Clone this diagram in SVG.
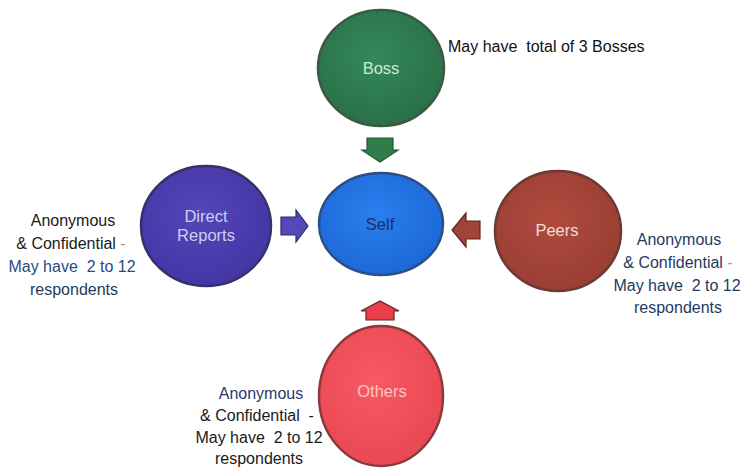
<svg xmlns="http://www.w3.org/2000/svg" width="746" height="469" viewBox="0 0 746 469">
  <defs>
    <style>
      .lbl { font-family: "Liberation Sans", Arial, sans-serif; font-size: 16.5px; text-anchor: middle; }
      .side { font-family: "Liberation Sans", Arial, sans-serif; font-size: 16px; text-anchor: middle; white-space: pre; }
      .node { stroke-width: 2.5; }
      .arrow { stroke-width: 1.2; stroke-linejoin: miter; }
    </style>
    <radialGradient id="gBoss" cx="45%" cy="40%" r="60%">
      <stop offset="0" stop-color="#34895a"/><stop offset="1" stop-color="#2a7048"/>
    </radialGradient>
    <radialGradient id="gSelf" cx="45%" cy="40%" r="60%">
      <stop offset="0" stop-color="#2a7fee"/><stop offset="1" stop-color="#1d68d8"/>
    </radialGradient>
    <radialGradient id="gDirect" cx="45%" cy="40%" r="60%">
      <stop offset="0" stop-color="#5346b8"/><stop offset="1" stop-color="#4536a6"/>
    </radialGradient>
    <radialGradient id="gPeers" cx="45%" cy="40%" r="60%">
      <stop offset="0" stop-color="#b04a3e"/><stop offset="1" stop-color="#9a3e34"/>
    </radialGradient>
    <radialGradient id="gOthers" cx="45%" cy="40%" r="60%">
      <stop offset="0" stop-color="#f65a62"/><stop offset="1" stop-color="#ea4852"/>
    </radialGradient>
  </defs>
  <rect width="746" height="469" fill="#ffffff"/>

  <g id="connectors">
    <polygon class="arrow" points="367,138 393,138 393,150 398,150 380,162 362,150 367,150" fill="#2e7d4a" stroke="#1f5a34"/>
    <polygon class="arrow" points="281,217 296,217 296,210 308,226 296,242 296,235 281,235" fill="#5548b8" stroke="#2e2770"/>
    <polygon class="arrow" points="480,221 466,221 466,213 452,230 466,247 466,239 480,239" fill="#a0443a" stroke="#5e2520"/>
    <polygon class="arrow" points="366,320 394,320 394,311 399,311 380,301 361,311 366,311" fill="#e8404a" stroke="#6a2025"/>
  </g>

  <g id="boss">
    <ellipse class="node" cx="381" cy="68" rx="63" ry="58" fill="url(#gBoss)" stroke="#3a5a44"/>
    <text class="lbl" x="381" y="74" fill="#cfe8d6">Boss</text>
  </g>
  <g id="self">
    <ellipse class="node" cx="381" cy="224" rx="62" ry="51" fill="url(#gSelf)" stroke="#2a4e86"/>
    <text class="lbl" x="380" y="230" fill="#1d2f62">Self</text>
  </g>
  <g id="direct-reports">
    <ellipse class="node" cx="206" cy="226" rx="65" ry="60" fill="url(#gDirect)" stroke="#37306a"/>
    <text class="lbl" x="206" y="222" fill="#cfcdf2">Direct</text>
    <text class="lbl" x="206" y="241" fill="#cfcdf2">Reports</text>
  </g>
  <g id="peers">
    <ellipse class="node" cx="558" cy="231" rx="63" ry="60" fill="url(#gPeers)" stroke="#6a3a34"/>
    <text class="lbl" x="557" y="236" fill="#f3ddd6">Peers</text>
  </g>
  <g id="others">
    <ellipse class="node" cx="381" cy="396" rx="62" ry="70" fill="url(#gOthers)" stroke="#8a3a3e"/>
    <text class="lbl" x="382" y="397" fill="#ffc4c6">Others</text>
  </g>

  <g id="notes">
    <text class="side" x="448" y="52" style="text-anchor:start" fill="#111111">May have  total of 3 Bosses</text>

    <text class="side" x="73" y="226" fill="#1a1a1a">Anonymous</text>
    <text class="side" x="71" y="249" fill="#1a1a1a">&amp; Confidential <tspan fill="#b09070">-</tspan></text>
    <text class="side" x="72" y="272" fill="#2c4a80">May have  2 to 12</text>
    <text class="side" x="74" y="295" fill="#223a5e">respondents</text>

    <text class="side" x="679" y="245" fill="#1f3a5f">Anonymous</text>
    <text class="side" x="678" y="268" fill="#1f3a5f">&amp; Confidential <tspan fill="#9aa0a8">-</tspan></text>
    <text class="side" x="677" y="291" fill="#1f3a5f">May have  2 to 12</text>
    <text class="side" x="678" y="313" fill="#1f3a5f">respondents</text>

    <text class="side" x="261" y="399" fill="#2a3a6a">Anonymous</text>
    <text class="side" x="257" y="421" fill="#1a1a1a">&amp; Confidential  -</text>
    <text class="side" x="259" y="443" fill="#1a1a1a">May have  2 to 12</text>
    <text class="side" x="259" y="464" fill="#1a1a1a">respondents</text>
  </g>
</svg>
